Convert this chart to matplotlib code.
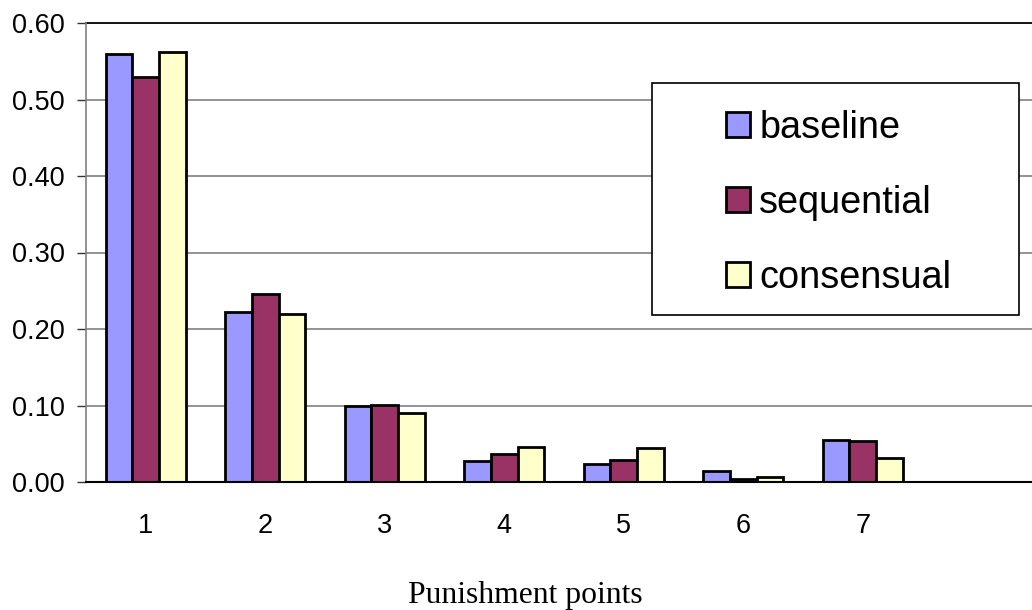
import numpy as np
import matplotlib
matplotlib.use('Agg')
import matplotlib.pyplot as plt
from matplotlib.patches import Rectangle

# punishment point frequencies per treatment
categories = ['1', '2', '3', '4', '5', '6', '7']
baseline = [0.560, 0.222, 0.099, 0.027, 0.024, 0.015, 0.055]
sequential = [0.530, 0.246, 0.101, 0.037, 0.029, 0.004, 0.054]
consensual = [0.562, 0.219, 0.090, 0.046, 0.044, 0.006, 0.032]
yticks = [0.0, 0.1, 0.2, 0.3, 0.4, 0.5, 0.6]

plt.rcParams['font.family'] = ['Liberation Sans', 'DejaVu Sans']

W, H = 1032, 610
fig = plt.figure(figsize=(W / 100, H / 100), dpi=100)
ax = fig.add_axes([86 / W, (H - 482) / H, (W - 86) / W, (482 - 23) / H])

x = np.arange(len(categories)) + 0.5
bw = 0.222
series = [('baseline', baseline, '#9999FF'),
          ('sequential', sequential, '#993366'),
          ('consensual', consensual, '#FFFFCC')]
handles = []
for i, (name, vals, col) in enumerate(series):
    b = ax.bar(x + (i - 1) * bw, vals, bw, color=col, edgecolor='black',
               linewidth=2.0, label=name, zorder=3)
    handles.append(b)

ax.set_xlim(0, (W - 86) / 119.5)
ax.set_ylim(0, 0.6)
ax.set_yticks(yticks)
ax.set_yticklabels(['%.2f' % v for v in yticks], fontsize=19.5)
ax.set_xticks(x)
ax.set_xticklabels(categories, fontsize=19.5)
ax.tick_params(axis='x', length=0, pad=22)
ax.tick_params(axis='y', length=6.5, width=1, color='#333333', pad=9)

for v in yticks[1:-1]:
    ax.axhline(v, color='#808080', linewidth=1.2, zorder=1)
ax.axhline(0.6, color='black', linewidth=1.3, zorder=1, clip_on=False)

for s in ['top', 'right']:
    ax.spines[s].set_visible(False)
ax.spines['left'].set_color('#808080')
ax.spines['left'].set_linewidth(1.2)
ax.spines['bottom'].set_color('black')
ax.spines['bottom'].set_linewidth(1.5)
ax.spines['bottom'].set_zorder(4)

fig.text(525 / W, 1 - 595 / H, 'Punishment points', ha='center', va='center',
         fontsize=22.8, family=['Liberation Serif', 'DejaVu Serif'])

# legend box
lx0, lx1, ly0, ly1 = 652, 1019, 83, 315
box = Rectangle((lx0 / W, 1 - ly1 / H), (lx1 - lx0) / W, (ly1 - ly0) / H,
                transform=fig.transFigure, facecolor='white', edgecolor='black',
                linewidth=1.2, zorder=5)
fig.patches.append(box)
leg = fig.legend(handles=handles, loc='center',
                 bbox_to_anchor=(((lx0 + lx1) / 2 + 3) / W, 1 - ((ly0 + ly1) / 2 + 4) / H),
                 frameon=False, fontsize=27.3, handlelength=0.63, handleheight=0.63,
                 handletextpad=0.25, labelspacing=1.03)
leg.set_zorder(6)

fig.savefig('out.png', dpi=100)
